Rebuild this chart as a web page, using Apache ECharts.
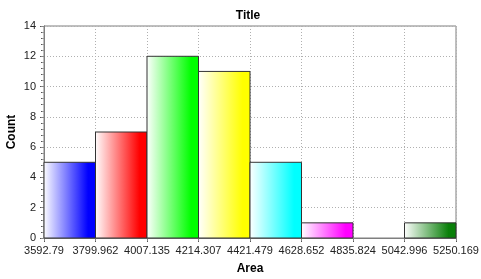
<!DOCTYPE html>
<html>
<head>
<meta charset="utf-8">
<script src="https://cdn.jsdelivr.net/npm/echarts@6/dist/echarts.min.js"></script>
<style>
html,body{margin:0;padding:0;background:#fff;}
#c{width:481px;height:279px;}
</style>
</head>
<body>
<div id="c"></div>
<script>
var binEdges = ['3592.79','3799.962','4007.135','4214.307','4421.479','4628.652','4835.824','5042.996','5250.169'];
var counts = [5, 7, 12, 11, 5, 1, 0, 1];
var barColors = ['#0000ff','#ff0000','#00ff00','#ffff00','#00ffff','#ff00ff','#808080','#0a800a'];
var titleText = 'Title';
var xName = 'Area';
var yName = 'Count';

var chart = echarts.init(document.getElementById('c'), null, {renderer:'canvas'});
var font = 'Arial, "Liberation Sans", sans-serif';
var data = counts.map(function(v,i){ return [i, i+1, v]; });

chart.setOption({
  animation:false,
  backgroundColor:'#ffffff',
  title:{text:titleText,left:243,textAlign:'center',top:5,textStyle:{fontFamily:font,fontSize:12,fontWeight:'bold',color:'#000'}},
  grid:{left:44,right:25,top:26,bottom:41,show:true,borderColor:'#7f7f7f',borderWidth:1,backgroundColor:'transparent',containLabel:false,outerBoundsMode:'none'},
  xAxis:[{
    type:'value',min:0,max:8,interval:1,position:'bottom',
    name:xName,nameLocation:'middle',nameGap:25,nameMoveOverlap:false,
    nameTextStyle:{fontFamily:font,fontSize:12,fontWeight:'bold',color:'#000'},
    axisLine:{show:true,lineStyle:{color:'#7f7f7f'}},
    axisTick:{show:true,length:4,lineStyle:{color:'#555'}},
    axisLabel:{fontFamily:font,fontSize:11,color:'#222',margin:7,hideOverlap:false,showMinLabel:true,showMaxLabel:true,formatter:function(v){return binEdges[Math.round(v)];}},
    splitLine:{show:true,lineStyle:{color:'#b0b0b0',type:[1,2]}}
  },{
    type:'value',min:0,max:8,interval:1,position:'top',
    axisLine:{show:true,lineStyle:{color:'#7f7f7f'}},
    axisTick:{show:true,inside:true,length:3,lineStyle:{color:'#888'}},
    axisLabel:{show:false},splitLine:{show:false}
  }],
  yAxis:[{
    type:'value',min:0,max:14,interval:2,position:'left',
    name:yName,nameLocation:'middle',nameGap:26,nameRotate:90,nameMoveOverlap:false,
    nameTextStyle:{fontFamily:font,fontSize:12,fontWeight:'bold',color:'#000'},
    axisLine:{show:true,lineStyle:{color:'#7f7f7f'}},
    axisTick:{show:true,length:4,lineStyle:{color:'#555'}},
    minorTick:{show:true,splitNumber:5,length:3,lineStyle:{color:'#555'}},
    axisLabel:{fontFamily:font,fontSize:11,color:'#222',margin:8},
    splitLine:{show:true,lineStyle:{color:'#b0b0b0',type:[1,2]}}
  },{
    type:'value',min:0,max:14,interval:2,position:'right',
    axisLine:{show:true,lineStyle:{color:'#7f7f7f'}},
    axisTick:{show:true,inside:true,length:3,lineStyle:{color:'#888'}},
    minorTick:{show:true,splitNumber:5,length:2,lineStyle:{color:'#999'}},
    axisLabel:{show:false},splitLine:{show:false}
  }],
  series:[{
    type:'custom',
    xAxisIndex:0,yAxisIndex:0,
    data:data,
    encode:{x:[0,1],y:2},
    renderItem:function(params, api){
      var i = params.dataIndex;
      var v = api.value(2);
      if (!v) return null;
      var p0 = api.coord([api.value(0), v]);
      var p1 = api.coord([api.value(1), 0]);
      var c = barColors[i];
      return {
        type:'rect',
        shape:{x:p0[0], y:p0[1], width:p1[0]-p0[0], height:p1[1]-p0[1]},
        style:{
          fill:new echarts.graphic.LinearGradient(0,0,1,0,[{offset:0,color:'#ffffff'},{offset:0.85,color:c},{offset:1,color:c}]),
          stroke:'#333333',lineWidth:1
        }
      };
    }
  }]
});
</script>
</body>
</html>
